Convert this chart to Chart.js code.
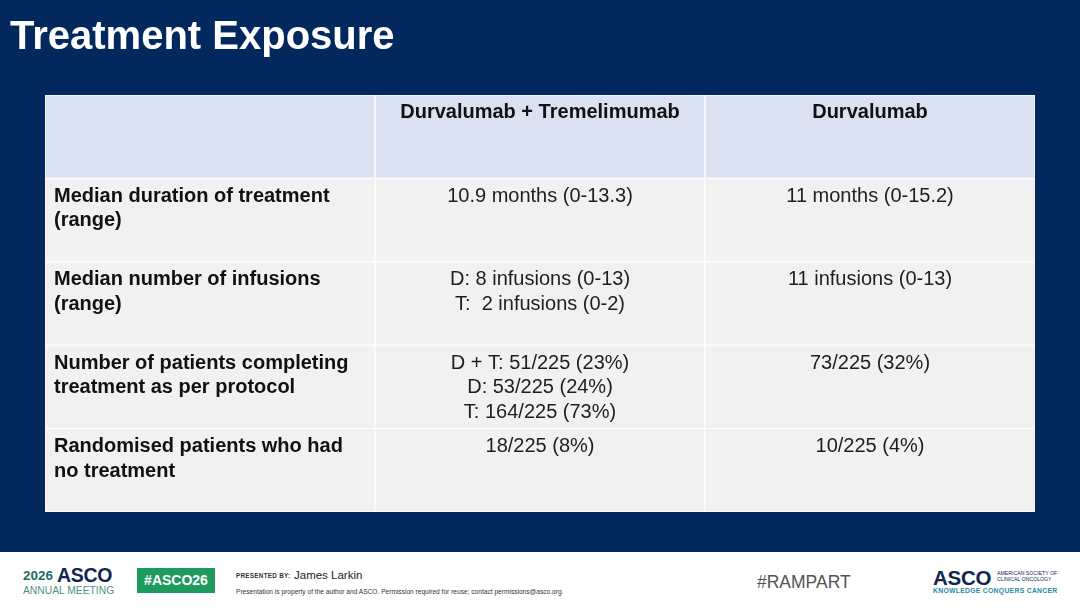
<!DOCTYPE html>
<html>
<head>
<meta charset="utf-8">
<script src="https://cdn.jsdelivr.net/npm/chart.js@4.4.0/dist/chart.umd.min.js"></script>
<style>
  html, body { margin:0; padding:0; width:1080px; height:608px; overflow:hidden; background:#fff; font-family:"Liberation Sans", Arial, sans-serif; }
  #top { position:absolute; left:0; top:0; width:1080px; height:552px; background:#03285e; }
  #title { position:absolute; left:10px; top:11px; margin:0; color:#fff; font:bold 40px "Liberation Sans", Arial, sans-serif; line-height:48px; white-space:nowrap; }
  canvas { position:absolute; left:0; top:0; }
  #footer { position:absolute; left:0; top:552px; width:1080px; height:56px; background:#fff; }
  .a { position:absolute; white-space:nowrap; line-height:1; }
</style>
</head>
<body>
<div id="top">
  <canvas id="c" width="1080" height="552"></canvas>
  <h1 id="title">Treatment Exposure</h1>
</div>
<div id="footer">
  <div class="a" style="left:23px;top:16px;font:bold 13.5px 'Liberation Sans',Arial;color:#1b6e60;">2026</div>
  <div class="a" style="left:57px;top:12px;font:bold 19.5px 'Liberation Sans',Arial;color:#10264f;letter-spacing:-0.3px;">ASCO</div>
  <div class="a" style="left:23px;top:33px;font:10.3px 'Liberation Sans',Arial;color:#4d8f86;">ANNUAL MEETING</div>
  <div class="a" style="left:137px;top:16px;width:78px;height:25px;background:#1f9a5e;color:#fff;font:bold 14px 'Liberation Sans',Arial;line-height:25px;text-align:center;">#ASCO26</div>
  <div class="a" style="left:236px;top:20px;font:bold 6.3px 'Liberation Sans',Arial;color:#333;letter-spacing:0.3px;">PRESENTED BY:</div>
  <div class="a" style="left:294px;top:17px;font:11.5px 'Liberation Sans',Arial;color:#222;">James Larkin</div>
  <div class="a" style="left:236px;top:36px;font:6.6px 'Liberation Sans',Arial;color:#333;">Presentation is property of the author and ASCO. Permission required for reuse; contact permissions@asco.org.</div>
  <div class="a" style="left:757px;top:20px;font:17.5px 'Liberation Sans',Arial;color:#555;">#RAMPART</div>
  <div class="a" style="left:933px;top:14px;font:bold 20.5px 'Liberation Sans',Arial;color:#10264f;letter-spacing:-0.3px;">ASCO</div>
  <div class="a" style="left:997px;top:18px;font:5.2px 'Liberation Sans',Arial;color:#10264f;line-height:6px;">AMERICAN SOCIETY OF<br>CLINICAL ONCOLOGY</div>
  <div class="a" style="left:933px;top:35px;font:bold 6.8px 'Liberation Sans',Arial;color:#2a8ba6;letter-spacing:0.3px;">KNOWLEDGE CONQUERS CANCER</div>
</div>
<script>
// ---- data ----
const columnHeaders = ["", "Durvalumab + Tremelimumab", "Durvalumab"];
const rowLabels = [
  ["Median duration of treatment", "(range)"],
  ["Median number of infusions", "(range)"],
  ["Number of patients completing", "treatment as per protocol"],
  ["Randomised patients who had", "no treatment"]
];
const comboValues = [
  ["10.9 months (0-13.3)"],
  ["D: 8 infusions (0-13)", "T:  2 infusions (0-2)"],
  ["D + T: 51/225 (23%)", "D: 53/225 (24%)", "T: 164/225 (73%)"],
  ["18/225 (8%)"]
];
const durvaValues = [
  ["11 months (0-15.2)"],
  ["11 infusions (0-13)"],
  ["73/225 (32%)"],
  ["10/225 (4%)"]
];

const rowKeys = ["header", "r1", "r2", "r3", "r4"];
const HEADER_BG = "#dae2f2";
const BODY_BG = "#f1f1f1";

const datasets = columnHeaders.map((h, c) => ({
  label: "col" + c,
  data: rowKeys.map(() => [c, c + 1]),
  grouped: false,
  backgroundColor: (ctx) => ctx.dataIndex === 0 ? HEADER_BG : BODY_BG,
  borderColor: "#ffffff",
  borderWidth: 1,
  borderSkipped: false,
  barPercentage: 1,
  categoryPercentage: 1
}));

const textPlugin = {
  id: "cellText",
  afterDatasetsDraw(chart) {
    const ctx = chart.ctx;
    const xs = chart.scales.x, ys = chart.scales.y;
    const band = ys.getPixelForValue(1) - ys.getPixelForValue(0);
    const lineH = 24.5;
    ctx.save();
    ctx.textBaseline = "middle";
    // header
    const hTop = ys.getPixelForValue(0) - band / 2;
    ctx.font = "bold 20px 'Liberation Sans', Arial, sans-serif";
    ctx.fillStyle = "#111";
    ctx.textAlign = "center";
    columnHeaders.forEach((h, c) => {
      if (h) ctx.fillText(h, xs.getPixelForValue(c + 0.5), hTop + 17.5);
    });
    // body rows
    rowLabels.forEach((lines, i) => {
      const top = ys.getPixelForValue(i + 1) - band / 2;
      ctx.font = "bold 20px 'Liberation Sans', Arial, sans-serif";
      ctx.fillStyle = "#111";
      ctx.textAlign = "left";
      lines.forEach((t, k) => ctx.fillText(t, xs.getPixelForValue(0) + 9, top + 18 + k * lineH));
      ctx.font = "20px 'Liberation Sans', Arial, sans-serif";
      ctx.fillStyle = "#1e1e1e";
      ctx.textAlign = "center";
      comboValues[i].forEach((t, k) => ctx.fillText(t, xs.getPixelForValue(1.5), top + 18 + k * lineH));
      durvaValues[i].forEach((t, k) => ctx.fillText(t, xs.getPixelForValue(2.5), top + 18 + k * lineH));
    });
    ctx.restore();
  }
};

new Chart(document.getElementById("c"), {
  type: "bar",
  data: { labels: rowKeys, datasets },
  options: {
    indexAxis: "y",
    responsive: false,
    animation: false,
    layout: { padding: { left: 45, right: 45, top: 95, bottom: 40 } },
    scales: {
      x: { type: "linear", min: 0, max: columnHeaders.length, display: false },
      y: { type: "category", display: false }
    },
    plugins: { legend: { display: false }, tooltip: { enabled: false }, title: { display: false } }
  },
  plugins: [textPlugin]
});
</script>
</body>
</html>
